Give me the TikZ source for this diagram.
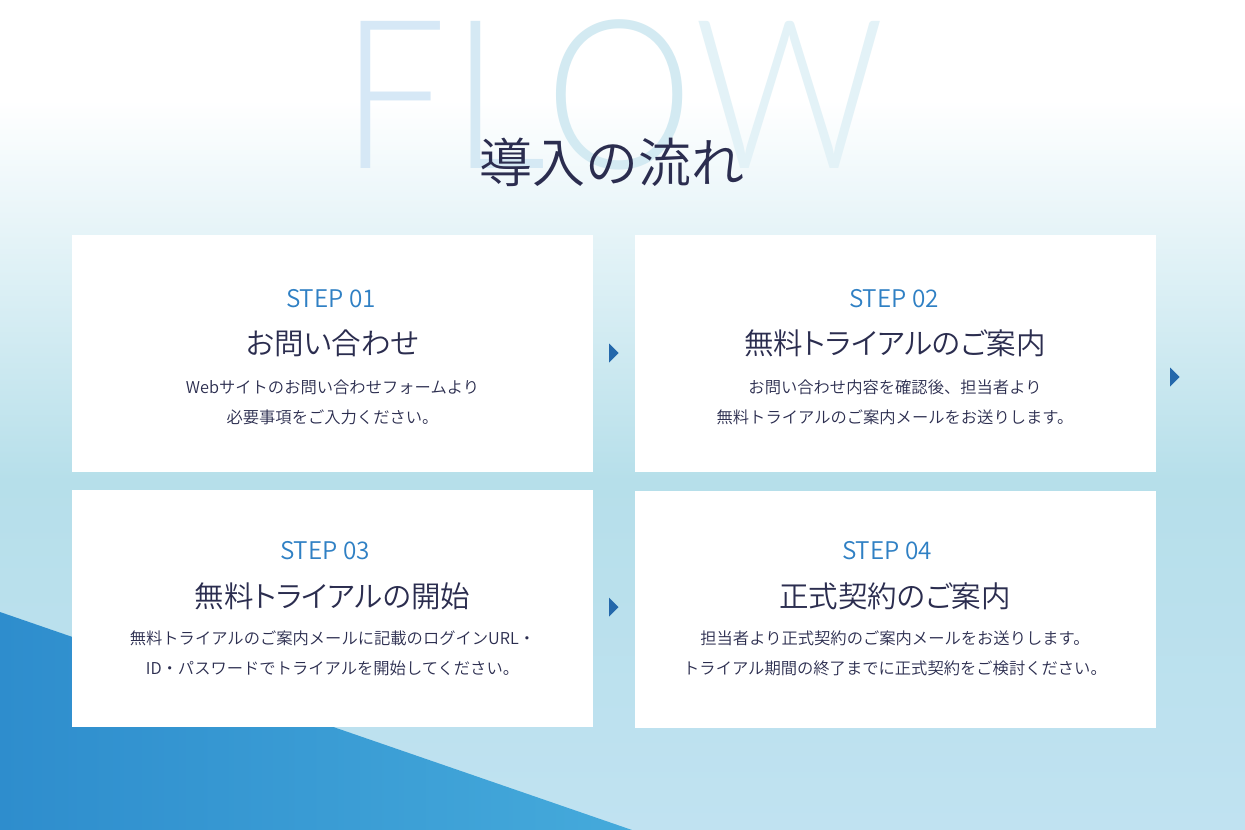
\documentclass[tikz,border=0pt]{standalone}
\usepackage{fontspec}
\IfFontExistsTF{Noto Sans CJK JP DemiLight}
  {\setmainfont{Noto Sans CJK JP DemiLight}}
  {\setmainfont{Noto Sans CJK JP}}
\IfFontExistsTF{Lato Light}
  {\newfontfamily\flowfont{Lato Light}[FakeStretch=0.9]}
  {\IfFontExistsTF{Lato Thin}{\newfontfamily\flowfont{Lato Thin}[FakeStretch=0.93,FakeBold=2]}{\newfontfamily\flowfont{Lato}[FakeStretch=0.9]}}
\definecolor{inkblue}{HTML}{2B2D4F}
\definecolor{stepblue}{HTML}{2F80C4}
\definecolor{arrowblue}{HTML}{2468AB}
\definecolor{bgmid}{HTML}{B6DFEA}
\definecolor{bglow}{HTML}{C0E2F1}
\definecolor{polyleft}{HTML}{2E8DCD}
\definecolor{polyright}{HTML}{45AADB}
\definecolor{flowa}{HTML}{D6E8F6}
\definecolor{flowb}{HTML}{D5E9F4}
\definecolor{flowc}{HTML}{D3EAF2}
\definecolor{flowd}{HTML}{E3F2F7}
\tikzset{
  card/.style={fill=white, minimum width=521pt, minimum height=237pt, inner sep=0pt, anchor=north west},
  steplabel/.style={text=stepblue, inner sep=0pt, font=\fontsize{24.3}{30}\selectfont},
  cardtitle/.style={text=inkblue, inner sep=0pt, font=\fontsize{29.5}{34}\selectfont\addfontfeature{RawFeature=+palt}},
  cardbody/.style={text=inkblue, inner sep=0pt, align=center, font=\fontsize{16.3}{30}\selectfont},
  flowword/.style={inner sep=0pt, font=\flowfont\fontsize{208}{215}\selectfont},
  pagetitle/.style={text=inkblue, inner sep=0pt, font=\fontsize{53}{60}\selectfont}
}
\newcommand{\steparrow}[1]{\fill[arrowblue] (#1) ++(-4.5,-9.5) -- ++(9.5,9.5) -- ++(-9.5,9.5) -- cycle;}

\begin{document}
\begin{tikzpicture}[x=1pt, y=-1pt]
  \useasboundingbox (0,0) rectangle (1245,830);
  % background
  \fill[white] (0,0) rectangle (1245,100);
  \shade[top color=white, bottom color=bgmid] (0,100) rectangle (1245,480);
  \shade[top color=bgmid, bottom color=bglow] (0,480) rectangle (1245,830);
  \shade[left color=polyleft, right color=polyright] (0,612) -- (632,830) -- (0,830) -- cycle;
  % big faint word and heading
  \node[flowword] (flow) at (613,95) {\color{flowa}F\kern4pt\color{flowb}L\color{flowc}O\color{flowd}W};
  \node[pagetitle] (title) at (612,162) {導入の流れ};
  % cards
  \node[card] (c1) at (72,235) {};
  \node[card] (c2) at (635,235) {};
  \node[card] (c3) at (72,490) {};
  \node[card] (c4) at (635,491) {};
  % step 01
  \node[steplabel] (s1) at (331,299) {STEP 01};
  \node[cardtitle] (t1) at (332.5,343) {お問い合わせ};
  \node[cardbody] (b1) at (332.5,402) {Webサイトのお問い合わせフォームより\\必要事項をご入力ください。};
  % step 02
  \node[steplabel] (s2) at (894,299) {STEP 02};
  \node[cardtitle] (t2) at (895,343) {無料トライアルのご案内};
  \node[cardbody] (b2) at (895,402) {お問い合わせ内容を確認後、担当者より\\無料トライアルのご案内メールをお送りします。};
  % step 03
  \node[steplabel] (s3) at (325,551) {STEP 03};
  \node[cardtitle] (t3) at (332.5,596) {無料トライアルの開始};
  \node[cardbody] (b3) at (332.5,653) {無料トライアルのご案内メールに記載のログインURL・\\ID・パスワードでトライアルを開始してください。};
  % step 04
  \node[steplabel] (s4) at (887,551) {STEP 04};
  \node[cardtitle] (t4) at (895,596) {正式契約のご案内};
  \node[cardbody] (b4) at (895,653) {担当者より正式契約のご案内メールをお送りします。\\トライアル期間の終了までに正式契約をご検討ください。};
  % arrows
  \steparrow{613.5,353}
  \steparrow{1174.5,377}
  \steparrow{613.5,607}
\end{tikzpicture}
\end{document}
